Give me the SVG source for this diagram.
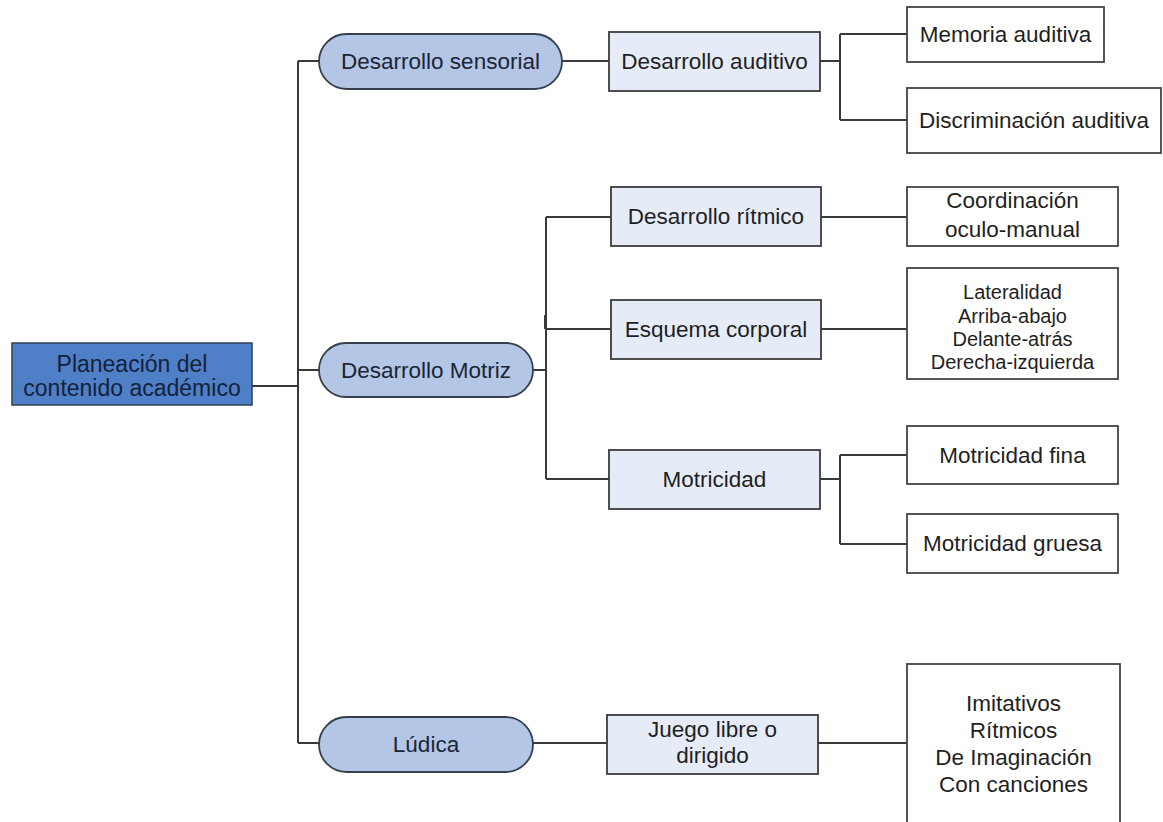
<svg xmlns="http://www.w3.org/2000/svg" width="1163" height="822" viewBox="0 0 1163 822">
  <style>
    text { font-family: "Liberation Sans", Arial, sans-serif; font-size: 22.5px; fill: #1f1f1f; text-anchor: middle; }
    .root rect { fill: #4f7fc7; stroke: #2f3f5a; stroke-width: 1.5; }
    .root text { font-size: 23px; fill: #13223a; }
    .pill rect { fill: #b3c6e6; stroke: #36404c; stroke-width: 1.8; }
    .pill text { fill: #1a2535; }
    .sub rect { fill: #e6ecf7; stroke: #3c3c3c; stroke-width: 1.8; }
    .leaf rect { fill: #ffffff; stroke: #444444; stroke-width: 1.8; }
    .small text { font-size: 20px; }
    #connectors path { fill: none; stroke: #3a3a3a; stroke-width: 2; }
  </style>
  <rect width="1163" height="822" fill="#ffffff"/>

  <!-- connectors -->
  <g id="connectors">
    <path d="M252 386 H298"/>
    <path d="M298 61 V743"/>
    <path d="M298 61 H319"/>
    <path d="M298 370 H319"/>
    <path d="M298 743 H319"/>
    <path d="M562 61 H609"/>
    <path d="M820 61 H840 M840 34 V120 M840 34 H907 M840 120 H907"/>
    <path d="M533 370 H546 M546 217 V479 M546 217 H611 M546 329 H611 M546 479 H609"/>
    <path d="M545 315 V329"/>
    <path d="M821 217 H907"/>
    <path d="M821 329 H907"/>
    <path d="M820 479 H840 M840 455 V544 M840 455 H907 M840 544 H907"/>
    <path d="M533 743 H607"/>
    <path d="M818 743 H907"/>
  </g>

  <!-- root -->
  <g id="planeacion" class="root">
    <rect x="12" y="343" width="240" height="62"/>
    <text x="132" y="372">Planeación del</text>
    <text x="132" y="396">contenido académico</text>
  </g>

  <!-- first level -->
  <g id="sensorial" class="pill">
    <rect x="319" y="34" width="243" height="55" rx="27.5"/>
    <text x="440.5" y="69">Desarrollo sensorial</text>
  </g>
  <g id="motriz" class="pill">
    <rect x="319" y="343" width="214" height="54" rx="27"/>
    <text x="426" y="378">Desarrollo Motriz</text>
  </g>
  <g id="ludica" class="pill">
    <rect x="319" y="717" width="214" height="55" rx="27.5"/>
    <text x="426" y="752">Lúdica</text>
  </g>

  <!-- second level -->
  <g id="auditivo" class="sub">
    <rect x="609" y="32" width="211" height="59"/>
    <text x="714.5" y="69">Desarrollo auditivo</text>
  </g>
  <g id="ritmico" class="sub">
    <rect x="611" y="187" width="210" height="59"/>
    <text x="716" y="224">Desarrollo rítmico</text>
  </g>
  <g id="esquema" class="sub">
    <rect x="611" y="300" width="210" height="59"/>
    <text x="716" y="337">Esquema corporal</text>
  </g>
  <g id="motricidad" class="sub">
    <rect x="609" y="450" width="211" height="59"/>
    <text x="714.5" y="487">Motricidad</text>
  </g>
  <g id="juego" class="sub">
    <rect x="607" y="715" width="211" height="59"/>
    <text x="712.5" y="737">Juego libre o</text>
    <text x="712.5" y="763">dirigido</text>
  </g>

  <!-- leaves -->
  <g id="memoria" class="leaf">
    <rect x="907" y="7" width="197" height="55"/>
    <text x="1005.5" y="42">Memoria auditiva</text>
  </g>
  <g id="discriminacion" class="leaf">
    <rect x="907" y="88" width="254" height="65"/>
    <text x="1034" y="128">Discriminación auditiva</text>
  </g>
  <g id="coordinacion" class="leaf">
    <rect x="907" y="187" width="211" height="59"/>
    <text x="1012.5" y="208">Coordinación</text>
    <text x="1012.5" y="237">oculo-manual</text>
  </g>
  <g id="lateralidad" class="leaf small">
    <rect x="907" y="268" width="211" height="111"/>
    <text x="1012.5" y="299">Lateralidad</text>
    <text x="1012.5" y="323">Arriba-abajo</text>
    <text x="1012.5" y="346">Delante-atrás</text>
    <text x="1012.5" y="369">Derecha-izquierda</text>
  </g>
  <g id="fina" class="leaf">
    <rect x="907" y="426" width="211" height="58"/>
    <text x="1012.5" y="463">Motricidad fina</text>
  </g>
  <g id="gruesa" class="leaf">
    <rect x="907" y="514" width="211" height="59"/>
    <text x="1012.5" y="551">Motricidad gruesa</text>
  </g>
  <g id="juegos-tipos" class="leaf">
    <rect x="907" y="664" width="213" height="170"/>
    <text x="1013.5" y="711">Imitativos</text>
    <text x="1013.5" y="738">Rítmicos</text>
    <text x="1013.5" y="765">De Imaginación</text>
    <text x="1013.5" y="792">Con canciones</text>
  </g>
</svg>
